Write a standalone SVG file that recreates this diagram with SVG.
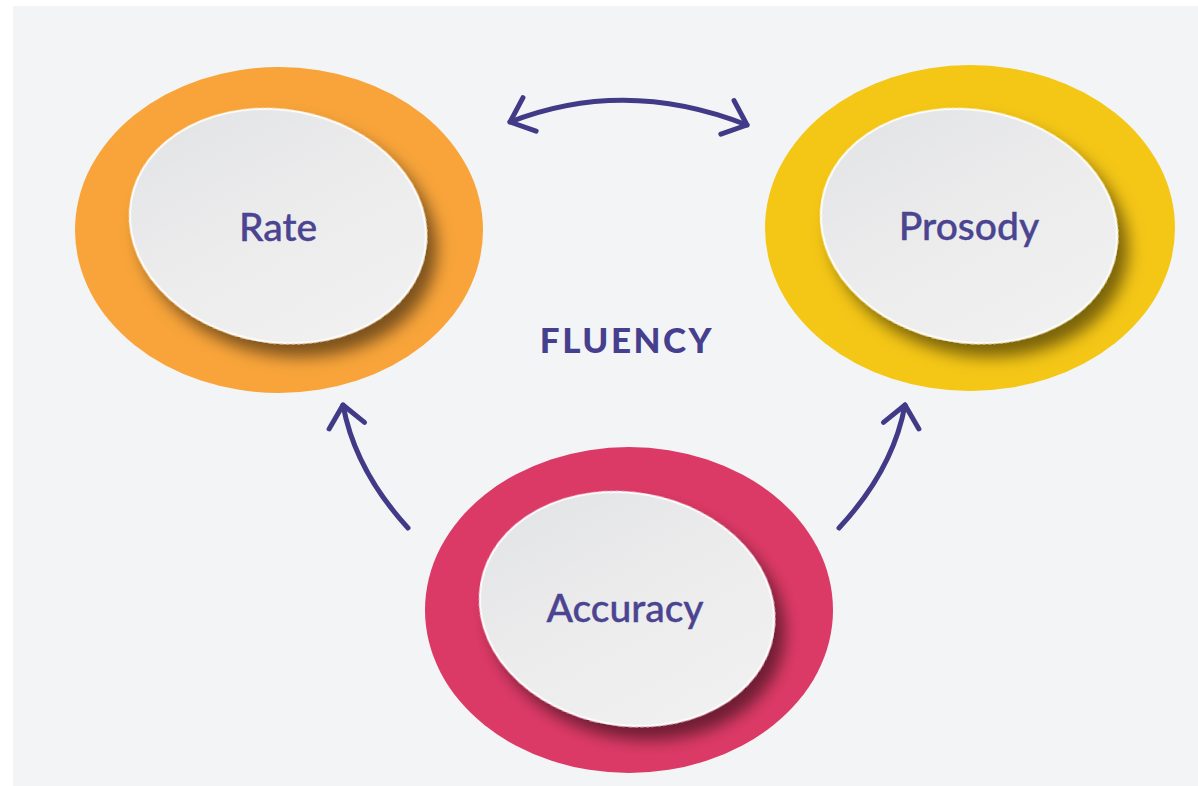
<svg xmlns="http://www.w3.org/2000/svg" width="1198" height="786" viewBox="0 0 1198 786">
  <style>
    .ring-rate { fill: #f8a43a; }
    .ring-prosody { fill: #f4c616; }
    .ring-accuracy { fill: #dc3a66; }
    .disc { fill: url(#discFill); stroke: #ffffff; stroke-width: 2; filter: url(#discShadow); }
    .label { font-family: Lato, "Open Sans", "Liberation Sans", sans-serif; font-size: 39px; font-weight: 500; fill: #4a4491; stroke: #4a4491; stroke-width: 0.4; text-anchor: middle; }
    .title { font-family: Lato, "Open Sans", "Liberation Sans", sans-serif; font-size: 35px; font-weight: 900; fill: #463f8e; text-anchor: middle; letter-spacing: 2.5px; }
    .link { fill: none; stroke: #413b87; stroke-width: 5; stroke-linecap: round; }
  </style>
  <defs>
    <linearGradient id="discFill" x1="0" y1="0" x2="1" y2="1">
      <stop offset="0" stop-color="#e1e2e4"/>
      <stop offset="0.5" stop-color="#ececed"/>
      <stop offset="1" stop-color="#f2f2f3"/>
    </linearGradient>
    <filter id="discShadow" x="-20%" y="-20%" width="150%" height="150%">
      <feDropShadow dx="12" dy="11" stdDeviation="8" flood-color="#000000" flood-opacity="0.5"/>
    </filter>
    <marker id="chevron" markerUnits="userSpaceOnUse" markerWidth="60" markerHeight="60" refX="0" refY="0" orient="auto-start-reverse" overflow="visible">
      <path d="M-21,-18 L0,0 L-21,18" fill="none" stroke="#413b87" stroke-width="5" stroke-linecap="round" stroke-linejoin="round"/>
    </marker>
  </defs>

  <!-- backdrop panel -->
  <rect x="0" y="0" width="1198" height="786" fill="#ffffff"/>
  <rect x="13" y="6" width="1185" height="780" fill="#f3f4f6"/>

  <!-- connectors -->
  <g id="connectors">
    <path class="link" d="M510,122 Q625,77 747,125" marker-start="url(#chevron)" marker-end="url(#chevron)"/>
    <path class="link" d="M408,528 Q355,470 343,405" marker-end="url(#chevron)"/>
    <path class="link" d="M839,528 Q893,470 905,405" marker-end="url(#chevron)"/>
  </g>

  <!-- nodes -->
  <g id="node-rate">
    <ellipse class="ring-rate" cx="279" cy="230" rx="204" ry="163"/>
    <ellipse class="disc" cx="278" cy="226" rx="149" ry="116" transform="rotate(10 278 226)"/>
    <text class="label" x="278" y="241">Rate</text>
  </g>

  <g id="node-prosody">
    <ellipse class="ring-prosody" cx="970" cy="228" rx="205" ry="163"/>
    <ellipse class="disc" cx="969" cy="226" rx="149" ry="116" transform="rotate(10 969 226)"/>
    <text class="label" x="969" y="240">Prosody</text>
  </g>

  <g id="node-accuracy">
    <ellipse class="ring-accuracy" cx="629" cy="610" rx="204" ry="163"/>
    <ellipse class="disc" cx="627" cy="609" rx="148" ry="116" transform="rotate(10 627 609)"/>
    <text class="label" x="625" y="622">Accuracy</text>
  </g>

  <g id="label-fluency">
    <text class="title" x="627" y="353">FLUENCY</text>
  </g>
</svg>
